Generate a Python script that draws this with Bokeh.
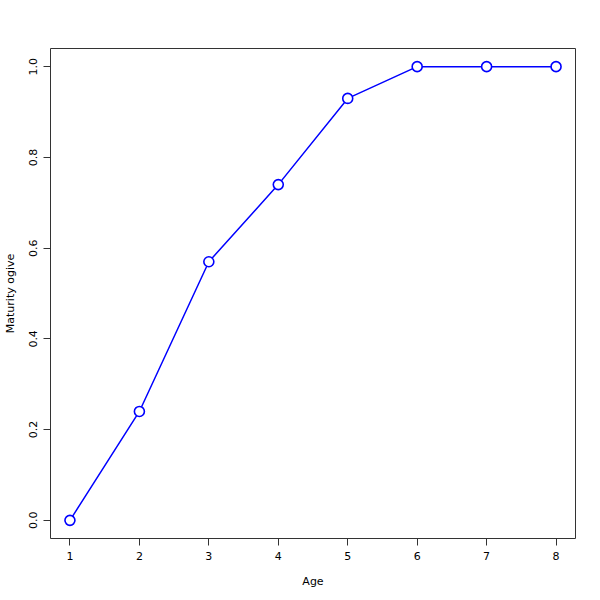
from bokeh.plotting import figure
from bokeh.embed import file_html
from bokeh.resources import INLINE
from bokeh.models import Range1d, FixedTicker, PrintfTickFormatter

ages = [1, 2, 3, 4, 5, 6, 7, 8]
maturity = [0.0, 0.24, 0.57, 0.74, 0.93, 1.0, 1.0, 1.0]
x_ticks = [1, 2, 3, 4, 5, 6, 7, 8]
y_ticks = [0.0, 0.2, 0.4, 0.6, 0.8, 1.0]

FONT = "DejaVu Sans"

p = figure(width=584, height=592, frame_width=525, frame_height=490,
           min_border_left=41, min_border_top=48, min_border_right=18, min_border_bottom=54,
           output_backend="svg", toolbar_location=None,
           x_range=Range1d(0.72, 8.28), y_range=Range1d(-0.04, 1.04))

p.line(ages, maturity, line_color="#0000ff", line_width=1.5)
p.scatter(ages, maturity, size=10, fill_color="white", line_color="#0000ff", line_width=1.6)

p.grid.visible = False
p.outline_line_color = "#333333"
p.outline_line_width = 1
p.background_fill_color = "white"
p.border_fill_color = "white"

for ax in (p.xaxis[0], p.yaxis[0]):
    ax.axis_line_color = None
    ax.major_tick_line_color = "#333333"
    ax.major_tick_in = 0
    ax.major_tick_out = 7
    ax.minor_tick_line_color = None
    ax.major_label_text_font = FONT
    ax.major_label_text_font_size = "11px"
    ax.major_label_text_color = "black"
    ax.axis_label_text_font = FONT
    ax.axis_label_text_font_size = "11px"
    ax.axis_label_text_font_style = "normal"
    ax.axis_label_text_color = "black"

p.xaxis.ticker = FixedTicker(ticks=x_ticks)
p.yaxis.ticker = FixedTicker(ticks=y_ticks)
p.yaxis.formatter = PrintfTickFormatter(format="%.1f")
p.yaxis.major_label_orientation = "vertical"
p.xaxis.axis_label = "Age"
p.yaxis.axis_label = "Maturity ogive"
p.xaxis.major_label_standoff = 6
p.xaxis.axis_label_standoff = 12
p.yaxis.major_label_standoff = 6
p.yaxis.axis_label_standoff = 10

open("out.html", "w").write(file_html(p, INLINE))
